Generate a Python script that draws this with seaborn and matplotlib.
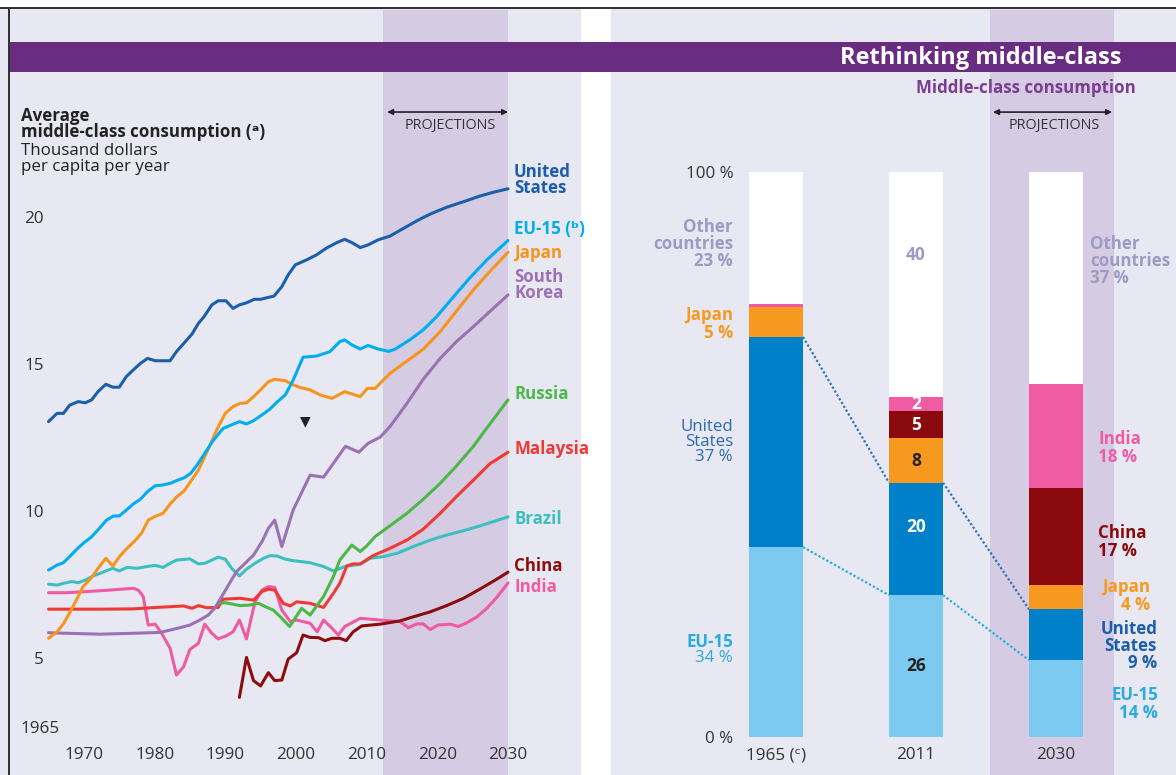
import numpy as np
import matplotlib
matplotlib.use("Agg")
import matplotlib.pyplot as plt
from matplotlib.patches import Rectangle
import seaborn as sns

# ---------------- data: left panel (thousand dollars per capita per year) ----------------
us_years = [1965, 1966.2, 1967.1, 1968, 1969.2, 1970.2, 1971.1, 1972, 1973.1, 1974.1, 1975, 1976, 1977,
            1978, 1979, 1980.1, 1981.1, 1982.2, 1983.1, 1984.2, 1985.3, 1986.2, 1987, 1988.1, 1989, 1990.1,
            1991.1, 1992, 1993, 1994.1, 1995, 1996, 1996.9, 1998, 1998.9, 1999.9, 2001.5, 2002.9, 2004.3,
            2005.8, 2006.9, 2007.9, 2009.1, 2010.2, 2011.6, 2013.3, 2015.2, 2017.1, 2019, 2021.3, 2023.7,
            2026, 2027.9, 2030]
us_vals = [13.04, 13.32, 13.32, 13.6, 13.72, 13.68, 13.78, 14.06, 14.31, 14.21, 14.21, 14.57, 14.8,
           15.02, 15.19, 15.11, 15.11, 15.11, 15.42, 15.72, 16.02, 16.38, 16.61, 17.01, 17.15, 17.15,
           16.89, 17.01, 17.08, 17.2, 17.2, 17.26, 17.31, 17.63, 18.03, 18.37, 18.54, 18.71, 18.94,
           19.13, 19.24, 19.13, 18.96, 19.05, 19.22, 19.35, 19.61, 19.87, 20.1, 20.33, 20.52,
           20.71, 20.84, 20.96]

eu_years = [1965, 1966.2, 1967.1, 1968, 1969, 1970, 1971, 1972.2, 1973.2, 1974.2, 1975, 1976, 1977, 1978,
            1979, 1980.1, 1981.1, 1982.2, 1983.1, 1984.2, 1985.1, 1986, 1987.1, 1988.3, 1989.7, 1990.9,
            1992, 1993, 1994, 1995.2, 1996.3, 1997.3, 1998.5, 1999.6, 2001, 2002.9, 2004.8, 2006.2, 2006.9,
            2007.9, 2009.1, 2010.2, 2011.6, 2013.1, 2014, 2016.1, 2018, 2019.9, 2022.3, 2024.6, 2027, 2030]
eu_vals = [7.99, 8.16, 8.24, 8.45, 8.7, 8.92, 9.1, 9.41, 9.69, 9.83, 9.83, 10.03, 10.24, 10.4,
           10.66, 10.86, 10.88, 10.94, 11.03, 11.13, 11.28, 11.56, 11.96, 12.4, 12.81, 12.93,
           13.04, 12.96, 13.07, 13.27, 13.46, 13.7, 13.95, 14.45, 15.23, 15.27, 15.42, 15.76, 15.82,
           15.65, 15.51, 15.63, 15.51, 15.43, 15.5, 15.82, 16.16, 16.61, 17.29, 17.93, 18.54, 19.2]

jp_years = [1965, 1966.2, 1967.1, 1968, 1969, 1969.9, 1970.9, 1972, 1973.1, 1974.1, 1975.1, 1976.1, 1977.2,
            1978.2, 1979.1, 1980.2, 1981.2, 1982.2, 1983.1, 1984.2, 1985.1, 1986.2, 1987.1, 1988.8, 1990,
            1991.1, 1992.1, 1993, 1994, 1995, 1996.1, 1997, 1998.5, 1999.6, 2000.6, 2002, 2003.4, 2005.1,
            2006.9, 2009.1, 2010.1, 2011.2, 2013.3, 2015.7, 2018, 2020.4, 2022.7, 2025.1, 2027.4, 2030]
jp_vals = [5.67, 5.89, 6.16, 6.54, 7.0, 7.43, 7.68, 8.05, 8.39, 8.13, 8.47, 8.73, 8.98,
           9.26, 9.69, 9.83, 9.92, 10.24, 10.47, 10.69, 11.0, 11.39, 11.85, 12.76, 13.32,
           13.55, 13.66, 13.68, 13.89, 14.12, 14.4, 14.48, 14.43, 14.29, 14.2, 14.12, 13.95, 13.83,
           14.06, 13.89, 14.17, 14.17, 14.68, 15.1, 15.5, 16.1, 16.8, 17.52, 18.14, 18.8]

kr_years = [1965, 1967.6, 1972.3, 1977, 1980.8, 1982.2, 1983.6, 1985, 1986.4, 1987.6, 1988.5, 1989.5,
            1990.6, 1991.6, 1992.8, 1994, 1995.2, 1996.1, 1997, 1998, 1999.6, 2002, 2003.9, 2005.3,
            2007, 2008.9, 2010.2, 2011.9, 2013.3, 2015.7, 2018, 2020.4, 2022.7, 2025.1, 2027.4, 2030]
kr_vals = [5.86, 5.84, 5.81, 5.84, 5.87, 5.95, 6.03, 6.12, 6.29, 6.46, 6.69, 7.09,
           7.54, 7.94, 8.22, 8.5, 8.96, 9.41, 9.69, 8.79, 10.03, 11.22, 11.15, 11.62,
           12.2, 12.0, 12.3, 12.51, 12.87, 13.66, 14.48, 15.19, 15.76, 16.27, 16.78, 17.35]

ru_years = [1989.3, 1990, 1992.1, 1993.5, 1994.7, 1995.9, 1996.8, 1998, 1999.1, 2000.8, 2002, 2003.9,
            2005.3, 2006.2, 2007.9, 2009.1, 2010, 2011.2, 2012.8, 2015.7, 2018, 2020.4, 2022.7, 2025.1,
            2027, 2030]
ru_vals = [6.86, 6.88, 6.78, 6.8, 6.86, 6.72, 6.63, 6.35, 6.07, 6.69, 6.46, 7.09,
           7.77, 8.33, 8.84, 8.62, 8.81, 9.13, 9.41, 9.92, 10.4, 10.94, 11.53, 12.2,
           12.82, 13.78]

my_years = [1965, 1972.3, 1977, 1980.3, 1984.1, 1985.3, 1986.2, 1987.4, 1989, 1989.7, 1992.1, 1994,
            1995.2, 1996.1, 1997, 1998.2, 1999.2, 2000.1, 2002, 2003.9, 2005.3, 2006.2, 2007.2, 2008.1,
            2009.1, 2010.9, 2013.3, 2015.7, 2018, 2020.4, 2022.7, 2025.1, 2027.4, 2030]
my_vals = [6.66, 6.66, 6.67, 6.72, 6.77, 6.69, 6.78, 6.71, 6.72, 7.0, 7.03, 6.97,
           7.26, 7.34, 7.31, 6.86, 6.77, 6.91, 6.86, 6.72, 7.2, 7.54, 8.13, 8.2,
           8.2, 8.48, 8.73, 9.01, 9.38, 9.92, 10.49, 11.05, 11.6, 12.0]

br_years = [1965, 1966.2, 1967.1, 1968.3, 1969.2, 1970.2, 1971.3, 1972.3, 1973.1, 1974.1, 1975, 1976.1,
            1977.5, 1978.9, 1980.1, 1981.2, 1982.2, 1983.1, 1985, 1986.2, 1987.1, 1988.1, 1989, 1990,
            1990.9, 1992, 1993, 1994.2, 1995.4, 1996.3, 1997.3, 1998.5, 1999.6, 2002, 2003.9, 2005.3,
            2006.9, 2009.1, 2010.5, 2012.4, 2014.3, 2016.6, 2019, 2021.3, 2023.7, 2026, 2030]
br_vals = [7.51, 7.48, 7.54, 7.6, 7.56, 7.65, 7.79, 7.88, 7.96, 8.05, 7.96, 8.08,
           8.05, 8.11, 8.15, 8.08, 8.22, 8.33, 8.37, 8.2, 8.22, 8.33, 8.43, 8.36,
           8.05, 7.79, 8.02, 8.22, 8.39, 8.48, 8.47, 8.36, 8.31, 8.24, 8.11, 7.96,
           8.11, 8.19, 8.39, 8.45, 8.56, 8.79, 9.01, 9.18, 9.33, 9.49, 9.8]

cn_years = [1992, 1993, 1994, 1995, 1996.1, 1997, 1998, 1998.9, 2000.1, 2001, 2002, 2003.2, 2004.1,
            2005.1, 2006.2, 2007.1, 2008.1, 2009.3, 2011.9, 2014.7, 2016.6, 2019, 2021.3, 2023.7, 2026,
            2028.4, 2030]
cn_vals = [3.66, 5.02, 4.23, 4.05, 4.5, 4.23, 4.25, 4.96, 5.18, 5.78, 5.7, 5.69, 5.59,
           5.67, 5.67, 5.59, 5.89, 6.09, 6.15, 6.26, 6.4, 6.57, 6.78, 7.03, 7.34,
           7.68, 7.92]

in_years = [1965, 1967.6, 1970.4, 1973.7, 1977, 1977.7, 1978.4, 1979.1, 1980.1, 1981, 1982.2, 1983.1,
            1984.1, 1985, 1986.2, 1987.1, 1988.1, 1989, 1990.1, 1991.1, 1992, 1993, 1994.2, 1995.2,
            1996.1, 1997, 1998, 1999.2, 2000.1, 2002, 2003, 2003.9, 2005.1, 2006, 2006.9, 2009.1,
            2011.9, 2014.7, 2015.9, 2017.1, 2018, 2019, 2020.1, 2021.8, 2023, 2024.2, 2025.6, 2027,
            2028.4, 2030]
in_vals = [7.22, 7.22, 7.26, 7.31, 7.37, 7.31, 7.09, 6.12, 6.15, 5.84, 5.33, 4.42,
           4.7, 5.29, 5.5, 6.15, 5.84, 5.65, 5.75, 5.89, 6.29, 5.65, 6.91, 7.31,
           7.43, 7.4, 6.63, 6.24, 6.29, 6.18, 5.89, 6.29, 6.01, 5.78, 6.07, 6.35,
           6.29, 6.24, 6.03, 6.16, 6.16, 5.97, 6.12, 6.15, 6.07, 6.2, 6.4, 6.69,
           7.06, 7.55]

y_ticks = [5, 10, 15, 20]
x_ticks = [1970, 1980, 1990, 2000, 2010, 2020, 2030]

# ---------------- data: right panel (share of middle-class consumption, %) ----------------
bar_years = ["1965 (\u1d9c)", "2011", "2030"]
share_eu = [33.6, 25.1, 13.6]
share_us = [37.2, 19.9, 9.0]
share_jp = [5.3, 7.9, 4.3]
share_cn = [0.0, 4.8, 17.1]
share_in = [0.6, 2.4, 18.5]
share_other = [23.3, 39.9, 37.5]
labels_2011 = ["26", "20", "8", "5", "2", "40"]

# ---------------- style ----------------
W, H = 1176, 775
LAV = "#e8e8f2"
SHADE = "#d5cbe3"
BANNER = "#682c80"
C_US = "#1b5ea9"
C_EU = "#00adee"
C_JP = "#f7941d"
C_KR = "#9a72b2"
C_RU = "#4cb848"
C_MY = "#ee3a34"
C_BR = "#3cbfbf"
C_CN = "#8b0d0d"
C_IN = "#ef5aa0"
B_EU = "#7ccaf0"
B_US = "#0080c8"
B_JP = "#f7991f"
B_CN = "#8a090c"
B_IN = "#f05ca4"
GREYP = "#9d9ac3"
TXT = "#333333"
FS = 12.2
LS = 0.93

sns.set_style("white")
plt.rcParams['font.family'] = ['Open Sans', 'DejaVu Sans']

fig = plt.figure(figsize=(W / 100, H / 100), dpi=100)
fig.patch.set_facecolor(LAV)


def rect(x0, y0, x1, y1):
    return [x0 / W, 1 - y1 / H, (x1 - x0) / W, (y1 - y0) / H]


def T(x, y, s, **kw):
    kw.setdefault("va", "center")
    kw.setdefault("fontsize", FS)
    kw.setdefault("zorder", 6)
    return fig.text(x / W, 1 - y / H, s, **kw)


# ---------------- left panel ----------------
axL = fig.add_axes(rect(10, 10, 580, 775))
axL.set_facecolor(LAV)
axL.axvspan(2012.3, 2030, color=SHADE, zorder=0, lw=0)

series = [
    (br_years, br_vals, C_BR), (in_years, in_vals, C_IN), (my_years, my_vals, C_MY),
    (ru_years, ru_vals, C_RU), (cn_years, cn_vals, C_CN), (kr_years, kr_vals, C_KR),
    (jp_years, jp_vals, C_JP), (eu_years, eu_vals, C_EU), (us_years, us_vals, C_US),
]
for yrs, vals, col in series:
    sns.lineplot(x=yrs, y=vals, ax=axL, color=col, linewidth=2.2, legend=False, zorder=3)

axL.set_xlim(1959.55, 2040.18)
axL.set_ylim(1.02, 27.04)
axL.set_xticks(x_ticks)
axL.set_yticks(y_ticks)
axL.tick_params(axis='y', length=0, pad=-24.5, labelsize=12.3, labelcolor=TXT)
axL.tick_params(axis='x', length=0, pad=-20, labelsize=12.3, labelcolor=TXT)
axL.set_xlabel("")
axL.set_ylabel("")
for s in axL.spines.values():
    s.set_visible(False)

axL.annotate("", xy=(2030, 23.57), xytext=(2012.9, 23.57),
             arrowprops=dict(arrowstyle="<|-|>", color="#222222", lw=1.2,
                             mutation_scale=8, shrinkA=0, shrinkB=0))
T(450, 125, "PROJECTIONS", ha="center", fontsize=10.4, color=TXT)

T(21, 116, "Average", fontweight="bold", color="#222222")
T(21, 132, "middle-class consumption (\u1d43)", fontweight="bold", color="#222222")
T(21, 151, "Thousand dollars", color="#222222")
T(21, 167, "per capita per year", color="#222222")
T(20, 729, "1965", fontsize=12.3, color=TXT)
T(305, 421, "\u25bc", ha="center", fontsize=10, color="#222222",
  family=['DejaVu Sans'])

lab_kw = dict(fontweight="bold", fontsize=FS, linespacing=0.9)
T(514, 180, "United\nStates", color=C_US, **lab_kw)
T(514, 229, "EU-15 (\u1d47)", color=C_EU, **lab_kw)
T(514, 253, "Japan", color=C_JP, **lab_kw)
T(514, 285, "South\nKorea", color=C_KR, **lab_kw)
T(514, 394, "Russia", color=C_RU, **lab_kw)
T(514, 449, "Malaysia", color=C_MY, **lab_kw)
T(514, 519, "Brazil", color=C_BR, **lab_kw)
T(514, 566, "China", color=C_CN, **lab_kw)
T(514, 587, "India", color=C_IN, **lab_kw)

# ---------------- right panel ----------------
axR = fig.add_axes(rect(611, 10, 1176, 775))
axR.set_facecolor(LAV)
axR.axvspan(1.529, 2.414, color=SHADE, zorder=0, lw=0)

layers = [share_eu, share_us, share_jp, share_cn, share_in, share_other]
colors = [B_EU, B_US, B_JP, B_CN, B_IN, "white"]
cum = np.cumsum(np.array(layers), axis=0)
BW = 0.386
for k in range(len(layers) - 1, -1, -1):
    sns.barplot(x=bar_years, y=cum[k], order=bar_years, color=colors[k], saturation=1,
                width=BW, errorbar=None, ax=axR, linewidth=0, zorder=2)

cum_eu = cum[0]
cum_us = cum[1]
for i in range(2):
    axR.plot([i + BW / 2, i + 1 - BW / 2], [cum_us[i], cum_us[i + 1]], color="#2a74ba",
             lw=1.6, ls=(0, (1, 1)), zorder=1)
    axR.plot([i + BW / 2, i + 1 - BW / 2], [cum_eu[i], cum_eu[i + 1]], color="#29abe2",
             lw=1.6, ls=(0, (1, 1)), zorder=1)

axR.set_xlim(-1.179, 2.857)
axR.set_ylim(-6.73, 128.67)
axR.set_xticks([0, 1, 2])
axR.set_xticklabels(bar_years)
axR.set_yticks([0, 100])
axR.set_yticklabels(["0 %", "100 %"])
axR.tick_params(axis='y', length=0, pad=-88, labelsize=FS, labelcolor=TXT)
axR.tick_params(axis='x', length=0, pad=-20, labelsize=12.3, labelcolor=TXT)
axR.set_xlabel("")
axR.set_ylabel("")
for s in axR.spines.values():
    s.set_visible(False)

# labels inside 2011 bar
lab_pos_2011 = [12.6, 37.2, 48.8, 55.2, 58.9, 85.3]
lab_col_2011 = ["#222222", "white", "#222222", "white", "white", GREYP]
for lbl, yv, c in zip(labels_2011, lab_pos_2011, lab_col_2011):
    axR.text(1, yv, lbl, ha="center", va="center", fontsize=12.5, fontweight="bold", color=c, zorder=5)

axR.annotate("", xy=(2.4, 110.6), xytext=(1.55, 110.6),
             arrowprops=dict(arrowstyle="<|-|>", color="#222222", lw=1.2,
                             mutation_scale=8, shrinkA=0, shrinkB=0))
T(1054, 125, "PROJECTIONS", ha="center", fontsize=10.4, color=TXT)

# labels left of 1965 bar
T(733, 244, "Other\ncountries\n23 %", ha="right", ma="right", color=GREYP, fontweight="bold", linespacing=LS)
T(733, 324, "Japan\n5 %", ha="right", ma="right", color=B_JP, fontweight="bold", linespacing=LS)
T(733, 442, "United\nStates\n37 %", ha="right", ma="right", color="#2a6ab0", linespacing=LS)
T(733, 642, "EU-15", ha="right", color="#29abe2", fontweight="bold")
T(733, 658, "34 %", ha="right", color="#29abe2")

# labels right of 2030 bar
T(1090, 261, "Other\ncountries\n37 %", ha="left", color=GREYP, fontweight="bold", linespacing=LS)
T(1098, 448, "India\n18 %", ha="left", color=B_IN, fontweight="bold", linespacing=LS)
T(1098, 542, "China\n17 %", ha="left", color=B_CN, fontweight="bold", linespacing=LS)
T(1150, 596, "Japan\n4 %", ha="right", ma="right", color=B_JP, fontweight="bold", linespacing=LS)
T(1157, 646, "United\nStates\n9 %", ha="right", ma="right", color="#1b5ea9", fontweight="bold", linespacing=LS)
T(1158, 704, "EU-15\n14 %", ha="right", ma="right", color="#29abe2", fontweight="bold", linespacing=LS)

# ---------------- frame decorations ----------------
fig.patches.append(Rectangle((581 / W, 0), 30 / W, 1, transform=fig.transFigure,
                             facecolor="white", edgecolor="none", zorder=1))
fig.patches.append(Rectangle((0, 1 - 7 / H), 1, 7 / H, transform=fig.transFigure,
                             facecolor="white", edgecolor="none", zorder=4))
fig.patches.append(Rectangle((0, 1 - 9 / H), 1, 2 / H, transform=fig.transFigure,
                             facecolor="#333333", edgecolor="none", zorder=4))
fig.patches.append(Rectangle((8 / W, 0), 2 / W, 1 - 9 / H, transform=fig.transFigure,
                             facecolor="#333333", edgecolor="none", zorder=4))
fig.patches.append(Rectangle((10 / W, 1 - 72 / H), 1 - 10 / W, 30 / H, transform=fig.transFigure,
                             facecolor=BANNER, edgecolor="none", zorder=5))
T(1122, 58, "Rethinking middle-class", ha="right", color="white", fontsize=17,
  fontweight="bold", zorder=7)
T(1136, 88, "Middle-class consumption", ha="right", color="#7a3d90", fontsize=FS,
  fontweight="bold")

fig.savefig("out.png", dpi=100, facecolor=fig.get_facecolor())
